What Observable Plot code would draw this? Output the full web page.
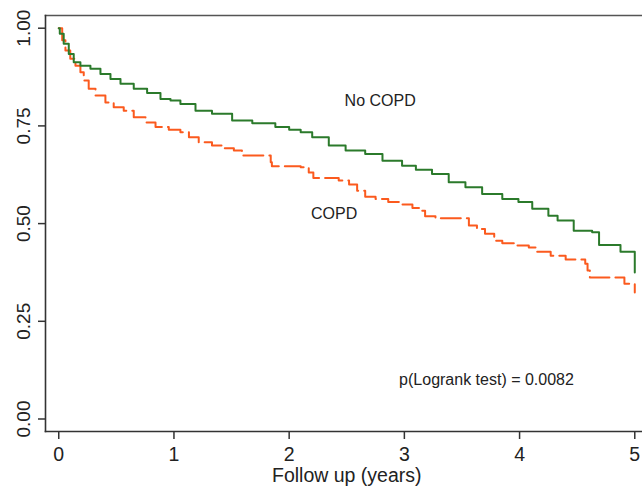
<!DOCTYPE html>
<html><head><meta charset="utf-8">
<script src="https://cdn.jsdelivr.net/npm/d3@7"></script>
<script src="https://cdn.jsdelivr.net/npm/@observablehq/plot@0.6"></script>
<style>html,body{margin:0;padding:0;background:#fff;overflow:hidden}</style>
</head><body><div id="chart"></div>
<script>
// Kaplan-Meier estimates
const noCopdTime = [0,0.009,0.043,0.087,0.13,0.188,0.275,0.362,0.449,0.536,0.651,0.767,0.883,0.97,1.056,1.187,1.33,1.505,1.68,1.88,2.0,2.1,2.2,2.344,2.49,2.66,2.81,2.98,3.1,3.24,3.385,3.53,3.675,3.85,3.99,4.11,4.25,4.33,4.47,4.63,4.69,4.876,5.0];
const noCopdSurv = [1.0,0.986,0.96,0.934,0.913,0.904,0.896,0.883,0.87,0.858,0.845,0.834,0.819,0.815,0.806,0.789,0.781,0.764,0.757,0.747,0.74,0.734,0.721,0.7,0.687,0.678,0.661,0.648,0.638,0.627,0.606,0.593,0.576,0.563,0.555,0.538,0.52,0.508,0.482,0.478,0.445,0.428,0.375];
const copdTime = [0,0.03,0.058,0.1,0.145,0.188,0.217,0.26,0.319,0.405,0.477,0.564,0.651,0.753,0.84,0.955,1.056,1.13,1.215,1.33,1.42,1.52,1.59,1.84,1.85,2.1,2.17,2.21,2.43,2.52,2.59,2.66,2.75,2.86,2.98,3.07,3.14,3.18,3.27,3.56,3.63,3.7,3.78,3.85,3.96,4.08,4.15,4.27,4.4,4.57,4.59,4.61,4.91,5.0];
const copdSurv = [1.0,0.969,0.943,0.922,0.904,0.887,0.866,0.845,0.828,0.81,0.798,0.789,0.772,0.759,0.747,0.74,0.734,0.721,0.708,0.7,0.693,0.687,0.674,0.657,0.647,0.644,0.631,0.617,0.61,0.6,0.584,0.569,0.563,0.555,0.549,0.54,0.533,0.519,0.514,0.495,0.486,0.474,0.456,0.45,0.444,0.439,0.428,0.418,0.408,0.397,0.38,0.362,0.346,0.324];

const xTicks = [0,1,2,3,4,5];
const yTicks = [0,0.25,0.5,0.75,1];
const xLabel = "Follow up (years)";
const annotText = ["No COPD","COPD","p(Logrank test) = 0.0082"];
const annotX = [2.79,2.39,3.713];
const annotY = [0.815,0.526,0.10];

const noCopd = noCopdTime.map((t,i)=>({t, s:noCopdSurv[i]}));
const copd = copdTime.map((t,i)=>({t, s:copdSurv[i]}));
const annots = annotText.map((text,i)=>({text, x:annotX[i], y:annotY[i]}));

const font = "'Liberation Sans', Arial, Helvetica, sans-serif";
const plot = Plot.plot({
  width: 642, height: 487,
  marginLeft: 45, marginRight: 0, marginTop: 15, marginBottom: 56,
  style: {fontFamily: font, background: "#fff", color: "#333", overflow: "visible"},
  x: {domain: [-0.115, 5.067]},
  y: {domain: [-0.032, 1.0325]},
  marks: [
    Plot.frame({anchor: "top", stroke: "#555", strokeWidth: 1.6}),
    Plot.frame({anchor: "left", stroke: "#333", strokeWidth: 1.6}),
    Plot.frame({anchor: "bottom", stroke: "#333", strokeWidth: 1.6}),
    Plot.axisX(xTicks, {tickSize: 8, tickPadding: 7.7, tickFormat: d3.format("d"), fontSize: 19.5, label: null, strokeWidth: 1.5, fill: "#222"}),
    Plot.axisY(yTicks, {tickSize: 7, tickPadding: 8.5, tickRotate: -90, tickFormat: d3.format(".2f"), fontSize: 19, label: null, strokeWidth: 1.5, fill: "#222"}),
    Plot.text([xLabel], {x: [2.5], text: d => d, frameAnchor: "bottom", dy: 44, lineAnchor: "middle", fontSize: 19.5, fill: "#222"}),
    Plot.line(copd, {x: "t", y: "s", curve: "step-after", stroke: "#fb5a1e", strokeWidth: 2, strokeDasharray: "20,6"}),
    Plot.line(noCopd, {x: "t", y: "s", curve: "step-after", stroke: "#2b7a2b", strokeWidth: 2}),
    Plot.text(annots, {x: "x", y: "y", text: "text", fontSize: 16, fill: "#222", lineAnchor: "middle"})
  ]
});
document.getElementById("chart").appendChild(plot);
</script>
</body></html>
